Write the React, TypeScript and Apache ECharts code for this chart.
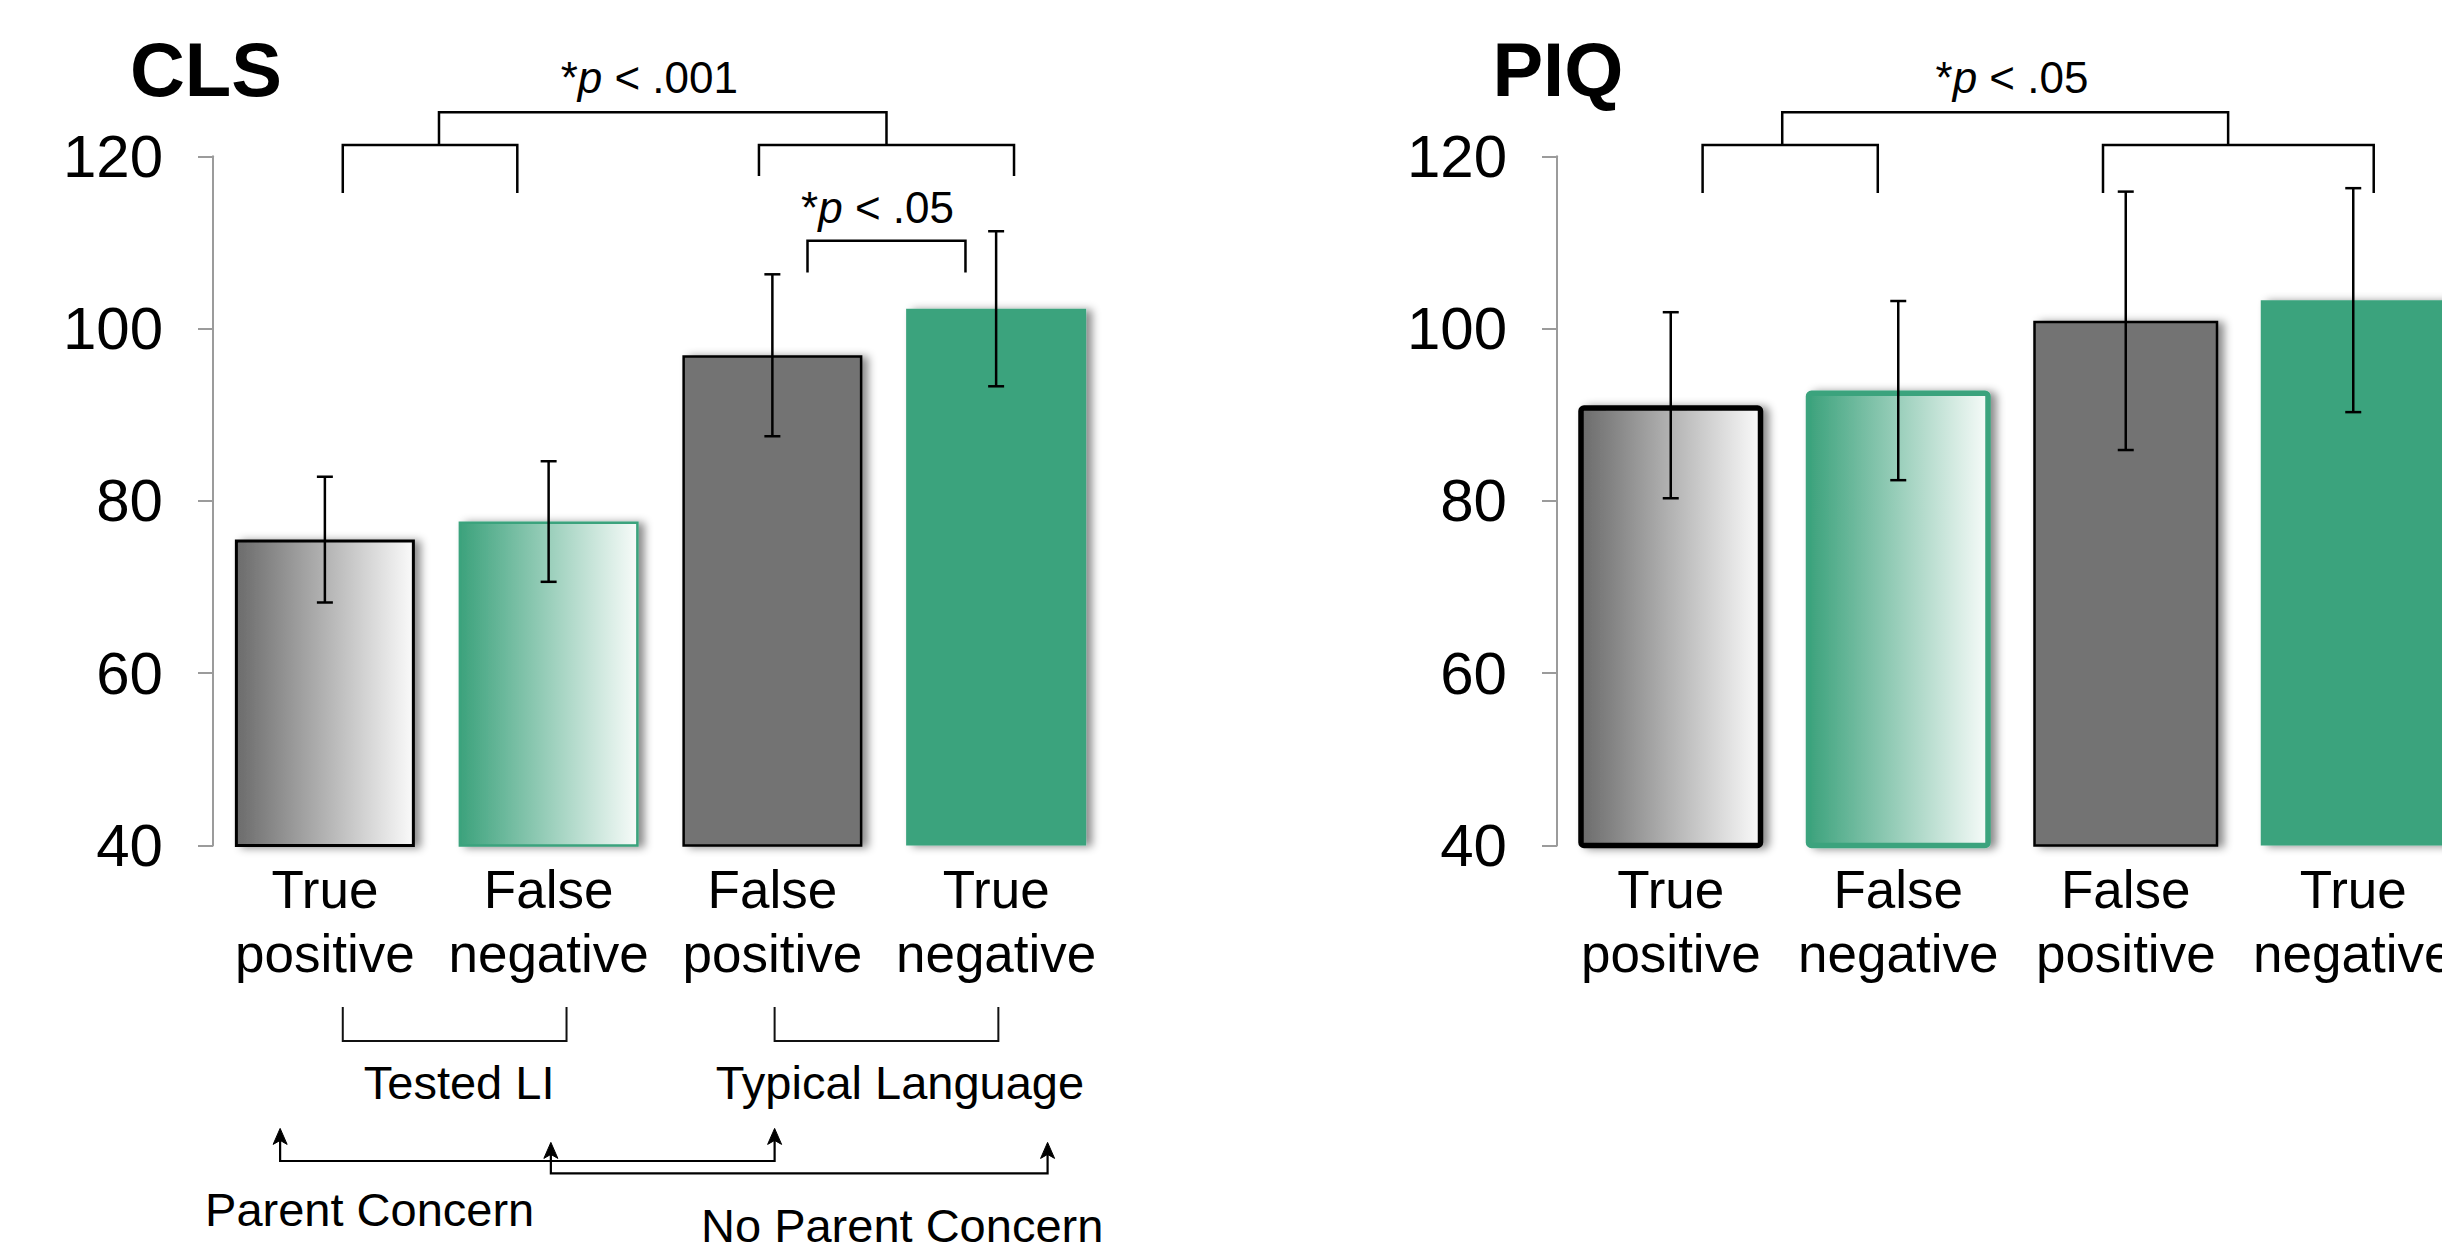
import React, { useEffect, useRef } from "react";
import * as echarts from "echarts";

const FONT = "'Liberation Sans', Arial, Helvetica, sans-serif";

// ---------- data ----------
const categories = ["True\npositive", "False\nnegative", "False\npositive", "True\nnegative"];
const clsMeans = [75.5, 77.6, 96.9, 102.3];
const clsErrors = [7.3, 7.0, 9.4, 9.0];
const piqMeans = [91.1, 92.8, 100.9, 103.3];
const piqErrors = [10.8, 10.4, 15.0, 13.0];
const panelTitles = ["CLS", "PIQ"];
const clsSigTop = "*{i|p} < .001";
const clsSigPair = "*{i|p} < .05";
const piqSigTop = "*{i|p} < .05";
const groupLabels = ["Tested LI", "Typical Language"];
const concernLabels = ["Parent Concern", "No Parent Concern"];
const yMin = 40;
const yMax = 120;
const yStep = 20;

const GREEN = "#3ba37d";
const GRAY = "#737373";

export default function App() {
  const ref = useRef<HTMLDivElement | null>(null);

  useEffect(() => {
    if (!ref.current) return;
    const chart = echarts.init(ref.current, null, { renderer: "svg" });

    const grayGrad = () =>
      new echarts.graphic.LinearGradient(0, 0, 1, 0, [
        { offset: 0, color: "#6b6b6b" },
        { offset: 1, color: "#fafafa" },
      ]);
    const greenGrad = () =>
      new echarts.graphic.LinearGradient(0, 0, 1, 0, [
        { offset: 0, color: "#3ca27c" },
        { offset: 1, color: "#f7fbf9" },
      ]);
    const shadow = {
      shadowColor: "rgba(0,0,0,0.45)",
      shadowBlur: 9,
      shadowOffsetX: 6,
      shadowOffsetY: 1,
    };
    const styles = (thick: number) => [
      { color: grayGrad(), borderColor: "#000", borderWidth: thick, borderRadius: thick > 4 ? 3 : 0, ...shadow },
      { color: greenGrad(), borderColor: GREEN, borderWidth: thick > 4 ? thick : 2.5, borderRadius: thick > 4 ? 3 : 0, ...shadow },
      { color: GRAY, borderColor: "#000", borderWidth: 2.5, ...shadow },
      { color: GREEN, borderWidth: 0, ...shadow },
    ];
    const clsStyles = styles(3);
    const piqStyles = styles(5.5);

    const errorRender = (params: any, api: any) => {
      const i = api.value(0);
      const lo = api.coord([i, api.value(1)]);
      const hi = api.coord([i, api.value(2)]);
      const cap = 8;
      const st = { stroke: "#000", lineWidth: 2.5 };
      return {
        type: "group",
        children: [
          { type: "line", shape: { x1: lo[0], y1: lo[1], x2: hi[0], y2: hi[1] }, style: st },
          { type: "line", shape: { x1: lo[0] - cap, y1: lo[1], x2: lo[0] + cap, y2: lo[1] }, style: st },
          { type: "line", shape: { x1: hi[0] - cap, y1: hi[1], x2: hi[0] + cap, y2: hi[1] }, style: st },
        ],
      };
    };

    const xAxisBase = (g: number) => ({
      type: "category",
      gridIndex: g,
      data: categories,
      axisLine: { show: false },
      axisTick: { show: false },
      axisLabel: {
        interval: 0,
        margin: 12,
        fontSize: 53,
        lineHeight: 64,
        color: "#000",
        fontFamily: FONT,
        hideOverlap: false,
      },
    });
    const yAxisBase = (g: number) => ({
      type: "value",
      gridIndex: g,
      min: yMin,
      max: yMax,
      interval: yStep,
      axisLine: { show: true, lineStyle: { color: "#9b9b9b", width: 2 } },
      axisTick: { show: true, length: 15, lineStyle: { color: "#9b9b9b", width: 2 } },
      splitLine: { show: false },
      axisLabel: { margin: 50, fontSize: 60, color: "#000", fontFamily: FONT },
    });

    const option: any = {
      animation: false,
      backgroundColor: "#fff",
      grid: [
        { left: 213, top: 156.3, width: 895, height: 689.1, outerBoundsMode: "none", containLabel: false },
        { left: 1557, top: 156.3, width: 910, height: 689.1, outerBoundsMode: "none", containLabel: false },
      ],
      xAxis: [xAxisBase(0), xAxisBase(1)],
      yAxis: [yAxisBase(0), yAxisBase(1)],
      series: [
        {
          type: "bar",
          xAxisIndex: 0,
          yAxisIndex: 0,
          barWidth: 180,
          data: clsMeans.map((v, i) => ({ value: v, itemStyle: clsStyles[i] })),
        },
        {
          type: "bar",
          xAxisIndex: 1,
          yAxisIndex: 1,
          barWidth: 185,
          data: piqMeans.map((v, i) => ({ value: v, itemStyle: piqStyles[i] })),
        },
        {
          type: "custom",
          xAxisIndex: 0,
          yAxisIndex: 0,
          renderItem: errorRender,
          encode: { x: 0, y: [1, 2] },
          data: clsMeans.map((m, i) => [i, m - clsErrors[i], m + clsErrors[i]]),
          z: 5,
        },
        {
          type: "custom",
          xAxisIndex: 1,
          yAxisIndex: 1,
          renderItem: errorRender,
          encode: { x: 0, y: [1, 2] },
          data: piqMeans.map((m, i) => [i, m - piqErrors[i], m + piqErrors[i]]),
          z: 5,
        },
      ],
    };
    chart.setOption(option);

    // ---------- annotations positioned through the axes ----------
    const px = (g: number, c: number, v: number) => chart.convertToPixel({ gridIndex: g }, [c, v]) as number[];
    const catX = (g: number, f: number) => {
      const c0 = px(g, 0, yMin)[0];
      const c1 = px(g, 1, yMin)[0];
      return c0 + f * (c1 - c0);
    };
    const valY = (g: number, v: number) => px(g, 0, v)[1];
    const baseY = (g: number) => valY(g, yMin);

    const lineStyle = { stroke: "#000", lineWidth: 2.5, fill: null };
    const thinStyle = { stroke: "#111", lineWidth: 2, fill: null };
    const els: any[] = [];

    const bracketDown = (g: number, f1: number, f2: number, top: number, leg: number) => {
      const x1 = catX(g, f1), x2 = catX(g, f2);
      const yt = valY(g, top), yl = valY(g, leg);
      els.push({
        type: "polyline",
        shape: { points: [[x1, yl], [x1, yt], [x2, yt], [x2, yl]] },
        style: lineStyle,
      });
    };
    const text = (x: number, y: number, t: string, size: number, extra: any = {}) => {
      els.push({
        type: "text",
        x,
        y,
        style: {
          text: t,
          fontSize: size,
          fontFamily: FONT,
          fill: "#000",
          align: "center",
          verticalAlign: "middle",
          rich: { i: { fontStyle: "italic", fontSize: size, fontFamily: FONT, fill: "#000" } },
          ...extra,
        },
      });
    };

    // titles
    text(catX(0, -0.871), valY(0, 130.1), panelTitles[0], 76, { fontWeight: "bold", align: "left" });
    text(catX(1, -0.784), valY(1, 130.1), panelTitles[1], 76, { fontWeight: "bold", align: "left" });

    // CLS significance brackets
    bracketDown(0, 0.08, 0.86, 121.3, 115.75);
    bracketDown(0, 1.94, 3.08, 121.3, 117.7);
    bracketDown(0, 0.51, 2.51, 125.1, 121.3);
    bracketDown(0, 2.157, 2.863, 110.2, 106.5);
    text(catX(0, 1.45), valY(0, 129.2), clsSigTop, 44);
    text(catX(0, 2.47), valY(0, 114.1), clsSigPair, 44);

    // PIQ significance brackets
    bracketDown(1, 0.14, 0.91, 121.3, 115.75);
    bracketDown(1, 1.9, 3.09, 121.3, 115.75);
    bracketDown(1, 0.49, 2.45, 125.1, 121.3);
    text(catX(1, 1.5), valY(1, 129.2), piqSigTop, 44);

    // CLS lower grouping brackets
    const b0 = baseY(0);
    const bracketUp = (f1: number, f2: number, o1: number, o2: number) => {
      const x1 = catX(0, f1), x2 = catX(0, f2);
      els.push({
        type: "polyline",
        shape: { points: [[x1, b0 + o1], [x1, b0 + o2], [x2, b0 + o2], [x2, b0 + o1]] },
        style: thinStyle,
      });
    };
    bracketUp(0.08, 1.08, 161.6, 195.6);
    bracketUp(2.01, 3.01, 161.6, 195.6);
    text(catX(0, 0.6), b0 + 237, groupLabels[0], 47);
    text(catX(0, 2.57), b0 + 237, groupLabels[1], 47);

    // arrows
    const arrow = (f1: number, f2: number, tipO: number, lineO: number) => {
      const x1 = catX(0, f1), x2 = catX(0, f2);
      const tip = b0 + tipO, ly = b0 + lineO;
      els.push({
        type: "polyline",
        shape: { points: [[x1, tip + 10], [x1, ly], [x2, ly], [x2, tip + 10]] },
        style: { stroke: "#000", lineWidth: 2.2, fill: null },
      });
      [x1, x2].forEach((x) =>
        els.push({
          type: "polygon",
          shape: { points: [[x, tip], [x - 7, tip + 16], [x, tip + 12], [x + 7, tip + 16]] },
          style: { fill: "#000", stroke: "#000", lineWidth: 1 },
        })
      );
    };
    arrow(-0.2, 2.01, 283, 315.6);
    arrow(1.01, 3.23, 297, 328);
    text(catX(0, 0.2), b0 + 364, concernLabels[0], 47);
    text(catX(0, 2.58), b0 + 380, concernLabels[1], 47);

    chart.setOption({ graphic: { elements: els } });

    return () => chart.dispose();
  }, []);

  return (
    <div
      ref={ref}
      style={{ position: "fixed", left: 0, top: 0, width: 2442, height: 1251, background: "#fff" }}
    />
  );
}
